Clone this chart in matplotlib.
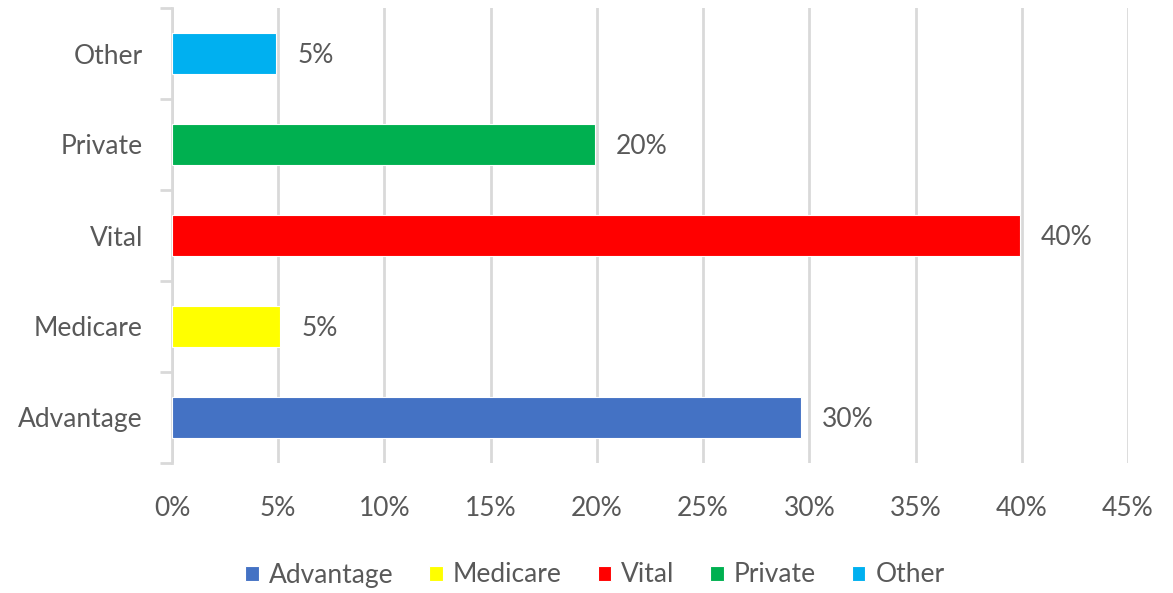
import matplotlib.pyplot as plt
from matplotlib.ticker import FixedLocator, MultipleLocator, PercentFormatter

# categories, bottom to top
categories = ['Advantage', 'Medicare', 'Vital', 'Private', 'Other']
values = [29.6, 5.1, 39.9, 19.9, 4.9]
labels = ['30%', '5%', '40%', '20%', '5%']
colors = ['#4472C4', '#FFFF00', '#FF0000', '#00B050', '#00B0F0']

plt.rcParams['font.family'] = ['Lato', 'DejaVu Sans']
text_color = '#595959'
fs = 19

fig = plt.figure(figsize=(11.73, 5.93), dpi=100)
ax = fig.add_axes([172 / 1173, 130 / 593, (1128 - 172) / 1173, 455 / 593])

# one series per category, like the spreadsheet original
for i, (cat, val, lab, col) in enumerate(zip(categories, values, labels, colors)):
    ax.barh(i, val, height=0.44, color=col, edgecolor='white', linewidth=0.8,
            label=cat, zorder=3)
    ax.text(val + 1.0, i - 0.02, lab, va='center', ha='left', fontsize=fs,
            color=text_color)

ax.set_xlim(0, 45)
ax.set_ylim(-0.5, len(categories) - 0.5)
ax.xaxis.set_major_locator(MultipleLocator(5))
ax.xaxis.set_major_formatter(PercentFormatter(decimals=0))
ax.grid(axis='x', color='#d9d9d9', linewidth=2, zorder=0)

ax.set_yticks(range(len(categories)))
ax.set_yticklabels(categories)
ax.yaxis.set_minor_locator(FixedLocator([i - 0.5 for i in range(len(categories) + 1)]))
ax.tick_params(axis='y', which='major', length=0, pad=21, labelsize=fs,
               labelcolor=text_color)
ax.tick_params(axis='y', which='minor', length=9, width=2, color='#d9d9d9')
ax.tick_params(axis='x', length=0, pad=24, labelsize=fs, labelcolor=text_color)

for side in ['top', 'right', 'bottom']:
    ax.spines[side].set_visible(False)
ax.spines['left'].set_color('#d9d9d9')
ax.spines['left'].set_linewidth(2)

leg = fig.legend(loc='center', bbox_to_anchor=(595 / 1173, 1 - 575 / 593),
                 ncol=5, frameon=False, fontsize=fs, handlelength=0.5,
                 handleheight=0.5, handletextpad=0.4, columnspacing=1.35)
for t in leg.get_texts():
    t.set_color(text_color)

fig.savefig('out.png', dpi=100)
